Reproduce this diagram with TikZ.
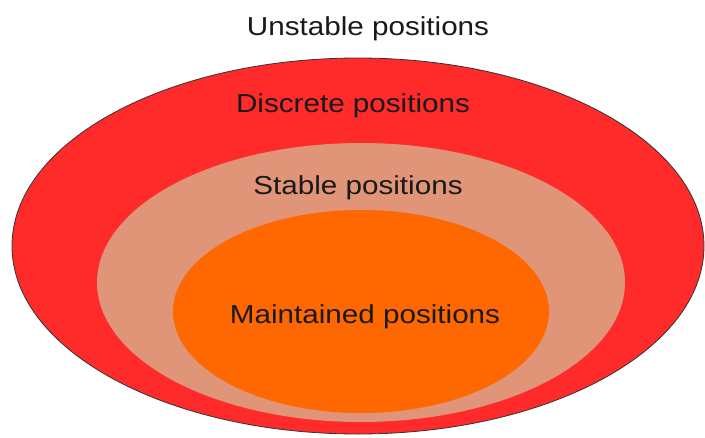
\documentclass[tikz,border=0pt]{standalone}
\usepackage{fontspec}
\setmainfont{Liberation Sans}
\definecolor{discretered}{RGB}{255,42,42}
\definecolor{stablebeige}{RGB}{224,148,120}
\definecolor{maintorange}{RGB}{255,104,0}
\begin{document}
\begin{tikzpicture}[x=1pt, y=-1pt,
  zonetext/.style={font=\fontsize{26}{30}\selectfont, text=black!90, xscale=1.14, anchor=base, inner sep=0pt}]
\useasboundingbox (0,0) rectangle (705,437);
% Discrete positions
\draw[fill=discretered, draw=black!80, line width=0.8pt] (358,246) ellipse [x radius=346, y radius=188];
% Stable positions
\fill[stablebeige] (361,282.5) ellipse [x radius=264, y radius=139.5];
% Maintained positions
\fill[maintorange] (361,311.5) ellipse [x radius=188, y radius=101.5];
% Labels
\node[zonetext] (unstable) at (368,35) {Unstable positions};
\node[zonetext] (discrete) at (353,112) {Discrete positions};
\node[zonetext] (stable) at (358,194) {Stable positions};
\node[zonetext] (maintained) at (365,323) {Maintained positions};
\end{tikzpicture}
\end{document}
